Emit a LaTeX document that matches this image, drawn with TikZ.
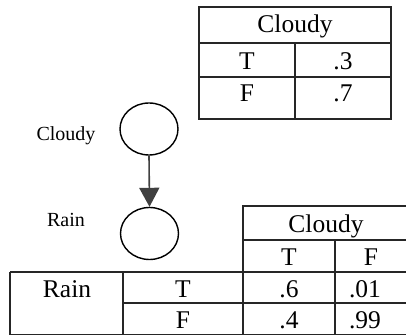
\documentclass[tikz,border=0pt]{standalone}
\usepackage{fontspec}
\setmainfont{Liberation Serif}
\usetikzlibrary{shapes.geometric,arrows.meta}
\begin{document}
\begin{tikzpicture}[x=1pt,y=-1pt,
  grid/.style={line width=1.4pt,black!85},
  cell/.style={anchor=base,inner sep=0pt,font=\fontsize{25.5}{30}\selectfont},
  lbl/.style={anchor=base,inner sep=0pt,font=\fontsize{20}{24}\selectfont},
  varnode/.style={draw,line width=1.4pt,ellipse,minimum width=58pt,minimum height=52pt,inner sep=0pt}]
\useasboundingbox (0,0) rectangle (406,336);
% top table
\draw[grid] (199,7) rectangle (391,119);
\draw[grid] (199,43) -- (391,43);
\draw[grid] (199,77) -- (391,77);
\draw[grid] (295,43) -- (295,119);
\node[cell] (tc) at (295,33) {Cloudy};
\node[cell] (tt) at (247,70) {T};
\node[cell] (tt3) at (343,70) {.3};
\node[cell] (tf) at (247,102) {F};
\node[cell] (tf7) at (343,102) {.7};
% network
\node[varnode] (cloudy) at (149,129) {};
\node[varnode] (rain) at (149.5,233.5) {};
\node[lbl] (lc) at (66,141) {Cloudy};
\node[lbl] (lr) at (66,227) {Rain};
\draw[line width=1.6pt,black!75,-{Triangle[width=20pt,length=19pt]}] (cloudy.south) -- (rain.north);
% bottom table
\draw[grid] (243,240) -- (243,206) -- (406,206);
\draw[grid] (243,240) -- (406,240);
\draw[grid] (335,240) -- (335,334.5);
\draw[grid] (10,272) -- (406,272);
\draw[grid] (10,272) -- (10,334.5) -- (406,334.5);
\draw[grid] (123,272) -- (123,334.5);
\draw[grid] (243,240) -- (243,334.5);
\draw[grid] (123,303) -- (406,303);
\node[cell] (bc) at (326,233) {Cloudy};
\node[cell] (bt) at (289,265) {T};
\node[cell] (bf) at (371,265) {F};
\node[cell] (br) at (67,297) {Rain};
\node[cell] (brt) at (183,297) {T};
\node[cell] (b6) at (289,297) {.6};
\node[cell] (b01) at (365,297) {.01};
\node[cell] (brf) at (183,328) {F};
\node[cell] (b4) at (289,328) {.4};
\node[cell] (b99) at (365,328) {.99};
\end{tikzpicture}
\end{document}
